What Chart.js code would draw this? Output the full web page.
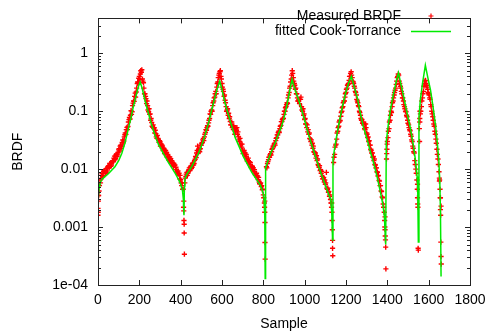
<!DOCTYPE html>
<html>
<head>
<meta charset="utf-8">
<script src="https://cdn.jsdelivr.net/npm/chart.js@4.4.1/dist/chart.umd.min.js"></script>
<style>
  html, body { margin: 0; padding: 0; background: #fff; }
  #wrap { width: 494px; height: 335px; }
</style>
</head>
<body>
<div id="wrap"><canvas id="brdf" width="494" height="335"></canvas></div>
<script>
// measured samples, one value every SAMPLE_STEP samples, per lobe
const SAMPLE_STEP = 5;
const lobeStarts = [0, 420, 815, 1140, 1398, 1555];

const lobe1 = [
  0.0016, 0.0042, 0.0065, 0.0068, 0.0085, 0.0078, 0.0092, 0.0088, 0.0102, 0.0096,
  0.0112, 0.0108, 0.0125, 0.0118, 0.0138, 0.0135, 0.0168, 0.0152, 0.0182, 0.0176,
  0.0215, 0.0205, 0.0258, 0.0248, 0.0318, 0.0305, 0.0392, 0.0398, 0.0525, 0.0545,
  0.0715, 0.0735, 0.102, 0.098, 0.138, 0.148, 0.205, 0.215, 0.3, 0.31,
  0.4, 0.44, 0.47, 0.36, 0.31, 0.2, 0.18, 0.135, 0.125, 0.098,
  0.088, 0.07, 0.064, 0.053, 0.05, 0.042, 0.041, 0.034, 0.034, 0.029,
  0.03, 0.025, 0.026, 0.021, 0.022, 0.0185, 0.0188, 0.016, 0.0165, 0.0142,
  0.0147, 0.0126, 0.013, 0.0112, 0.0116, 0.0098, 0.0098, 0.0084, 0.0082, 0.0068,
  0.0066, 0.0052, 0.0045, 0.0028
];
const lobe2 = [
  0.0058, 0.0075, 0.0088, 0.0085, 0.0098, 0.0095, 0.0112, 0.0108, 0.0128, 0.0125,
  0.0148, 0.0158, 0.021, 0.019, 0.0215, 0.0225, 0.026, 0.029, 0.034, 0.036,
  0.043, 0.047, 0.056, 0.063, 0.075, 0.088, 0.105, 0.125, 0.15, 0.175,
  0.22, 0.26, 0.32, 0.42, 0.48, 0.4, 0.3, 0.24, 0.18, 0.155,
  0.12, 0.105, 0.085, 0.075, 0.066, 0.058, 0.052, 0.048, 0.05, 0.045,
  0.047, 0.04, 0.036, 0.03, 0.026, 0.024, 0.021, 0.0195, 0.0175, 0.0165,
  0.015, 0.014, 0.0128, 0.012, 0.011, 0.0104, 0.0096, 0.009, 0.0083, 0.0078,
  0.0072, 0.0066, 0.006, 0.0056, 0.005, 0.0044, 0.0036, 0.0026
];
const lobe3 = [
  0.011, 0.0125, 0.0145, 0.016, 0.0185, 0.02, 0.023, 0.025, 0.028, 0.031,
  0.035, 0.039, 0.045, 0.05, 0.057, 0.066, 0.075, 0.088, 0.1, 0.12,
  0.14, 0.17, 0.21, 0.27, 0.36, 0.5, 0.38, 0.3, 0.24, 0.2,
  0.17, 0.15, 0.135, 0.16, 0.12, 0.1, 0.085, 0.072, 0.06, 0.052,
  0.044, 0.04, 0.034, 0.03, 0.026, 0.023, 0.02, 0.018, 0.0155, 0.014,
  0.012, 0.0108, 0.0095, 0.0085, 0.0075, 0.0068, 0.006, 0.0055, 0.0088, 0.0045,
  0.004, 0.0034, 0.003, 0.0022
];
const lobe4 = [
  0.013, 0.018, 0.026, 0.033, 0.045, 0.055, 0.07, 0.082, 0.1, 0.12,
  0.15, 0.175, 0.21, 0.25, 0.29, 0.34, 0.4, 0.48, 0.38, 0.32,
  0.27, 0.22, 0.19, 0.15, 0.125, 0.1, 0.085, 0.07, 0.062, 0.058,
  0.05, 0.06, 0.042, 0.035, 0.03, 0.026, 0.022, 0.019, 0.016, 0.014,
  0.012, 0.0105, 0.009, 0.0076, 0.0064, 0.0052, 0.0042, 0.0033, 0.0025, 0.0018
];
const lobe5 = [
  0.022, 0.035, 0.05, 0.07, 0.1, 0.12, 0.15, 0.19, 0.23, 0.29,
  0.38, 0.44, 0.33, 0.27, 0.22, 0.17, 0.15, 0.12, 0.1, 0.085,
  0.07, 0.058, 0.048, 0.04, 0.032, 0.025, 0.02, 0.014, 0.01, 0.0065
];
const lobe6 = [
  0.05, 0.09, 0.12, 0.17, 0.22, 0.3, 0.34, 0.28, 0.24, 0.2,
  0.17, 0.13, 0.1, 0.08, 0.06, 0.045, 0.033, 0.022, 0.015, 0.009,
  0.0045, 0.0023
];

// second pass of measured samples, offset by 2 samples, every 10 samples
const PASS_STEP = 10;
const secondStarts = [2, 422, 817, 1142, 1400, 1557];
const lobe1b = [
  0.0035, 0.0058, 0.0074, 0.0095, 0.0089, 0.0115, 0.0112, 0.014, 0.0145, 0.0165,
  0.0225, 0.023, 0.0285, 0.042, 0.048, 0.078, 0.088, 0.15, 0.175, 0.32,
  0.35, 0.52, 0.25, 0.165, 0.105, 0.09, 0.055, 0.052, 0.036, 0.033,
  0.025, 0.025, 0.0185, 0.0195, 0.0145, 0.0152, 0.0118, 0.0118, 0.0088, 0.0085,
  0.0058, 0.0045
];
const lobe2b = [
  0.007, 0.0078, 0.0105, 0.0102, 0.0118, 0.0165, 0.025, 0.02, 0.028, 0.031,
  0.048, 0.055, 0.09, 0.1, 0.17, 0.2, 0.38, 0.5, 0.26, 0.19,
  0.1, 0.092, 0.058, 0.056, 0.04, 0.052, 0.032, 0.027, 0.0185, 0.019,
  0.0138, 0.0135, 0.0105, 0.0105, 0.0078, 0.0076, 0.0056, 0.0052, 0.0032
];
const lobe3b = [
  0.0105, 0.016, 0.0175, 0.025, 0.026, 0.039, 0.043, 0.066, 0.075, 0.115,
  0.135, 0.25, 0.42, 0.33, 0.25, 0.15, 0.16, 0.105, 0.09, 0.06,
  0.048, 0.033, 0.028, 0.0195, 0.017, 0.0115, 0.0098, 0.0068, 0.0065, 0.0047,
  0.0041, 0.0026
];
const lobe4b = [
  0.016, 0.027, 0.052, 0.068, 0.115, 0.15, 0.24, 0.3, 0.45, 0.33,
  0.25, 0.16, 0.12, 0.075, 0.065, 0.048, 0.04, 0.031, 0.021, 0.0165,
  0.0118, 0.0088, 0.0062, 0.0041, 0.0022
];
const lobe5b = [
  0.03, 0.065, 0.095, 0.17, 0.25, 0.4, 0.3, 0.2, 0.13, 0.098,
  0.062, 0.046, 0.03, 0.019, 0.0085
];
const lobe6b = [
  0.075, 0.15, 0.27, 0.3, 0.21, 0.16, 0.09, 0.055, 0.028, 0.012, 0.0032
];

// third pass, offset by 7 samples, upper edge of the band
const thirdStarts = [7, 427, 822, 1147, 1405, 1562];
const lobe1c = [
  0.0052, 0.0078, 0.0092, 0.0085, 0.0108, 0.0125, 0.013, 0.0155, 0.0175, 0.0195,
  0.025, 0.029, 0.036, 0.048, 0.065, 0.085, 0.125, 0.18, 0.25, 0.37,
  0.5, 0.33, 0.2, 0.15, 0.11, 0.075, 0.058, 0.047, 0.038, 0.031,
  0.027, 0.023, 0.021, 0.018, 0.0162, 0.014, 0.0125, 0.0108, 0.0093, 0.0078,
  0.0058
];
const lobe2c = [
  0.0082, 0.0092, 0.0108, 0.0125, 0.014, 0.019, 0.022, 0.026, 0.032, 0.04,
  0.052, 0.07, 0.1, 0.14, 0.2, 0.3, 0.45, 0.36, 0.22, 0.14,
  0.11, 0.08, 0.065, 0.056, 0.05, 0.044, 0.034, 0.027, 0.021, 0.018,
  0.0155, 0.013, 0.0112, 0.0098, 0.0085, 0.0072, 0.0058, 0.0045
];
const lobe3c = [
  0.0135, 0.0175, 0.022, 0.027, 0.034, 0.043, 0.055, 0.072, 0.1, 0.13,
  0.19, 0.32, 0.45, 0.28, 0.2, 0.16, 0.175, 0.11, 0.075, 0.058,
  0.042, 0.032, 0.025, 0.019, 0.015, 0.0115, 0.0092, 0.0072, 0.0058, 0.0047,
  0.0036
];
const lobe4c = [
  0.024, 0.042, 0.065, 0.095, 0.14, 0.2, 0.28, 0.4, 0.42, 0.3,
  0.21, 0.14, 0.095, 0.072, 0.06, 0.052, 0.036, 0.026, 0.019, 0.015,
  0.0105, 0.0078, 0.0052, 0.0032
];
const lobe5c = [
  0.045, 0.085, 0.14, 0.21, 0.33, 0.42, 0.25, 0.17, 0.11, 0.08,
  0.052, 0.037, 0.023, 0.012
];
const lobe6c = [
  0.1, 0.2, 0.33, 0.26, 0.19, 0.12, 0.07, 0.04, 0.018, 0.0062
];

// loose measured points around the lobe edges and dips
const extraSamples = [
  0, 1, 2, 3,
  414, 415, 416, 417, 417, 418,
  806, 807, 807, 808, 808, 809,
  1131, 1132, 1133, 1134, 1135, 1135, 1136,
  1387, 1388, 1389, 1389, 1390, 1391, 1392, 1393,
  1396, 1397, 1399,
  1545, 1546, 1546, 1547, 1548, 1549, 1550,
  1556, 1557, 1558, 1652, 1653, 1656, 1657, 1658, 1659, 1660, 1661
];
const extraValues = [
  0.0021, 0.0018, 0.0028, 0.0035,
  0.0022, 0.0019, 0.0013, 0.00112, 0.00079, 0.00034,
  0.0022, 0.0018, 0.0028, 0.0012, 0.00054, 0.00028,
  0.0026, 0.0018, 0.0013, 0.0009, 0.00059, 0.00043, 0.00032,
  0.0013, 0.001, 0.0009, 0.0015, 0.0007, 0.0006, 0.00045, 0.00019,
  0.015, 0.0185, 0.027,
  0.0045, 0.0032, 0.0055, 0.0025, 0.0022, 0.00043, 0.0004,
  0.03, 0.065, 0.1, 0.007, 0.0065, 0.0032, 0.002, 0.0016, 0.00055, 0.00031, 0.00023
];

// fitted Cook-Torrance curve
const fitSamples = [
  0, 5, 12, 20, 35, 50, 65, 82, 100, 115, 130, 147, 160, 171, 185, 196, 204, 212, 220, 228,
  244, 260, 276, 292, 308, 325, 341, 357, 373, 389, 400, 409, 413, 416,
  418, 420, 430, 442, 454, 470, 486, 502, 518, 535, 551, 565, 578, 589, 598, 610,
  623, 644, 664, 684, 704, 724, 744, 765, 785, 798, 804, 807, 809,
  811, 825, 841, 860, 875, 890, 905, 918, 930, 939, 948, 960, 971, 995, 1019, 1043,
  1068, 1092, 1116, 1126, 1131, 1135,
  1137, 1150, 1164, 1180, 1197, 1212, 1226, 1240, 1255, 1270, 1285, 1302, 1318, 1334,
  1350, 1366, 1378, 1386, 1392,
  1395, 1405, 1415, 1430, 1445, 1454, 1465, 1479, 1495, 1512, 1525, 1536, 1544, 1547, 1550,
  1553, 1560, 1570, 1584, 1596, 1609, 1621, 1633, 1642, 1649, 1654, 1657, 1660
];
const fitValues = [
  0.0028, 0.0045, 0.006, 0.0067, 0.0075, 0.0083, 0.0095, 0.011, 0.014, 0.0186, 0.028, 0.05, 0.078, 0.12, 0.19, 0.27, 0.32, 0.26, 0.2, 0.15,
  0.092, 0.057, 0.038, 0.027, 0.021, 0.0163, 0.013, 0.0105, 0.0085, 0.0067, 0.0055, 0.0042, 0.003, 0.0016,
  0.005, 0.0068, 0.0082, 0.0095, 0.0112, 0.0145, 0.0186, 0.026, 0.039, 0.063, 0.108, 0.17, 0.25, 0.33, 0.25, 0.16,
  0.108, 0.06, 0.035, 0.024, 0.0163, 0.012, 0.0088, 0.0068, 0.0053, 0.004, 0.003, 0.0015, 0.00013,
  0.0105, 0.015, 0.021, 0.03, 0.042, 0.057, 0.09, 0.15, 0.25, 0.355, 0.27, 0.2, 0.157, 0.08, 0.039, 0.021,
  0.011, 0.0063, 0.0037, 0.003, 0.0018, 0.0006,
  0.015, 0.03, 0.057, 0.11, 0.2, 0.3, 0.4, 0.26, 0.17, 0.09, 0.052, 0.033, 0.02, 0.0126,
  0.0075, 0.0041, 0.0025, 0.0015, 0.0005,
  0.03, 0.06, 0.108, 0.2, 0.35, 0.46, 0.3, 0.178, 0.095, 0.05, 0.027, 0.0145, 0.0075, 0.005, 0.00055,
  0.08, 0.16, 0.3, 0.62, 0.38, 0.23, 0.12, 0.057, 0.028, 0.0145, 0.006, 0.0019, 0.00014
];

const xTicks = [0, 200, 400, 600, 800, 1000, 1200, 1400, 1600, 1800];
const yTicks = [1e-4, 1e-3, 1e-2, 1e-1, 1];
const yTickLabels = ['1e-04', '0.001', '0.01', '0.1', '1'];
const Y_MIN = 1e-4;
const Y_MAX = 4;

const FONT = { family: '"Liberation Sans", Arial, Helvetica, sans-serif', size: 14 };
const FRAME_COLOR = '#222';
const RED = 'rgb(255,0,0)';
const GREEN = 'rgb(0,235,0)';

const measured = [];
function addLobes(lobes, starts, step) {
  lobes.forEach((values, k) => {
    values.forEach((v, i) => measured.push({ x: starts[k] + i * step, y: v }));
  });
}
addLobes([lobe1, lobe2, lobe3, lobe4, lobe5, lobe6], lobeStarts, SAMPLE_STEP);
addLobes([lobe1b, lobe2b, lobe3b, lobe4b, lobe5b, lobe6b], secondStarts, PASS_STEP);
addLobes([lobe1c, lobe2c, lobe3c, lobe4c, lobe5c, lobe6c], thirdStarts, PASS_STEP);
extraSamples.forEach((s, i) => measured.push({ x: s, y: extraValues[i] }));
const fitted = fitSamples.map((s, i) => ({ x: s, y: fitValues[i] }));

// gnuplot style box with inward, mirrored ticks
const framePlugin = {
  id: 'frame',
  afterDatasetsDraw(chart) {
    const { ctx, chartArea: a, scales: { x, y } } = chart;
    ctx.save();
    ctx.strokeStyle = FRAME_COLOR;
    ctx.lineWidth = 1;
    ctx.beginPath();
    xTicks.forEach((v) => {
      const px = Math.round(x.getPixelForValue(v)) + 0.5;
      ctx.moveTo(px, a.bottom); ctx.lineTo(px, a.bottom - 5);
      ctx.moveTo(px, a.top); ctx.lineTo(px, a.top + 5);
    });
    for (let e = -4; e <= 0; e++) {
      for (let m = 1; m <= 9; m++) {
        const v = m * Math.pow(10, e);
        if (v > Y_MAX) break;
        const py = Math.round(y.getPixelForValue(v)) + 0.5;
        const len = m === 1 ? 5 : 3;
        ctx.moveTo(a.left, py); ctx.lineTo(a.left + len, py);
        ctx.moveTo(a.right, py); ctx.lineTo(a.right - len, py);
      }
    }
    ctx.stroke();
    ctx.strokeRect(Math.round(a.left) + 0.5, Math.round(a.top) + 0.5,
      Math.round(a.right - a.left), Math.round(a.bottom - a.top));
    ctx.restore();
  }
};

// key in the top right corner, text right aligned, sample after it
const keyPlugin = {
  id: 'key',
  afterDraw(chart) {
    const { ctx } = chart;
    const textRight = 401;
    const sampleLeft = 411;
    const sampleRight = 451;
    ctx.save();
    ctx.font = `${FONT.size}px ${FONT.family}`;
    ctx.fillStyle = '#000';
    ctx.textAlign = 'right';
    ctx.textBaseline = 'middle';
    chart.data.datasets.forEach((ds, i) => {
      const ty = 16 + i * 15.5;
      ctx.fillText(ds.label, textRight, ty);
      ctx.strokeStyle = ds.borderColor;
      ctx.lineWidth = ds.showLine ? 1.5 : 1.2;
      ctx.beginPath();
      if (ds.showLine) {
        ctx.moveTo(sampleLeft, ty); ctx.lineTo(sampleRight, ty);
      } else {
        const cx = (sampleLeft + sampleRight) / 2;
        ctx.moveTo(cx - 2.5, ty); ctx.lineTo(cx + 2.5, ty);
        ctx.moveTo(cx, ty - 2.5); ctx.lineTo(cx, ty + 2.5);
      }
      ctx.stroke();
    });
    ctx.restore();
  }
};

new Chart(document.getElementById('brdf'), {
  type: 'scatter',
  data: {
    datasets: [
      {
        label: 'Measured BRDF',
        data: measured,
        showLine: false,
        pointStyle: 'cross',
        pointRadius: 2.6,
        borderColor: RED,
        backgroundColor: RED,
        borderWidth: 1.4,
        order: 1
      },
      {
        label: 'fitted Cook-Torrance',
        data: fitted,
        showLine: true,
        pointRadius: 0,
        borderColor: GREEN,
        borderWidth: 1.5,
        tension: 0,
        order: 0
      }
    ]
  },
  options: {
    responsive: false,
    animation: false,
    events: [],
    layout: { padding: { top: 4, right: 24, left: 0, bottom: 0 } },
    plugins: {
      legend: { display: false },
      tooltip: { enabled: false }
    },
    scales: {
      x: {
        type: 'linear',
        min: 0,
        max: 1800,
        afterFit(scale) { scale.height = 50; },
        afterBuildTicks(scale) { scale.ticks = xTicks.map((v) => ({ value: v })); },
        ticks: {
          font: FONT,
          color: '#000',
          padding: 7,
          maxRotation: 0,
          autoSkip: false,
          callback: (value) => String(value)
        },
        grid: { display: false, drawTicks: false },
        border: { display: false },
        title: { display: true, text: 'Sample', font: FONT, color: '#000', padding: { top: 0, bottom: 2 } }
      },
      y: {
        type: 'logarithmic',
        min: Y_MIN,
        max: Y_MAX,
        afterFit(scale) { scale.width = 98; },
        afterBuildTicks(scale) { scale.ticks = yTicks.map((v) => ({ value: v })); },
        ticks: {
          font: FONT,
          color: '#000',
          padding: 10,
          autoSkip: false,
          callback: (value) => yTickLabels[yTicks.indexOf(value)]
        },
        grid: { display: false, drawTicks: false },
        border: { display: false },
        title: { display: true, text: 'BRDF', font: FONT, color: '#000', padding: { top: 10, bottom: 0 } }
      }
    }
  },
  plugins: [framePlugin, keyPlugin]
});
</script>
</body>
</html>
